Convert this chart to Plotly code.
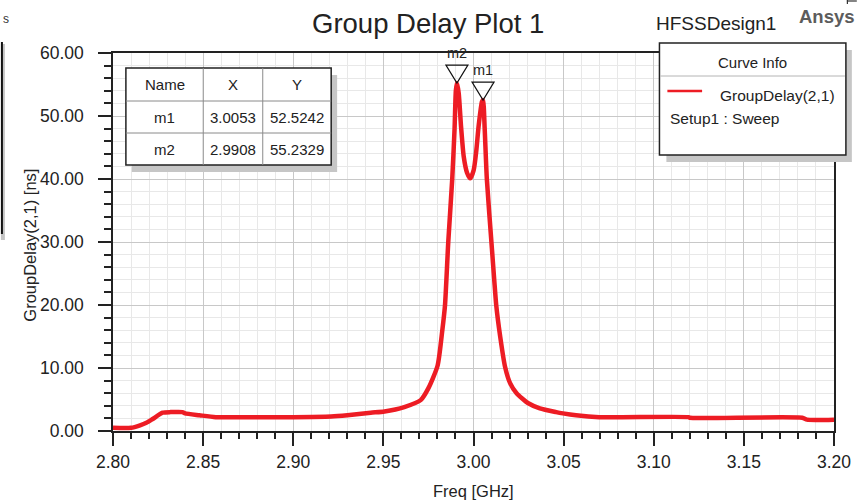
import plotly.graph_objects as go

# Group delay of S21 versus frequency (HFSS sweep "Setup1 : Sweep")
freq_ghz = [
    2.800, 2.810, 2.815, 2.8185, 2.822, 2.8275, 2.832, 2.8385, 2.840, 2.848,
    2.857, 2.880, 2.900, 2.921, 2.930, 2.943, 2.9506, 2.9616, 2.9707, 2.975,
    2.9801, 2.9827, 2.9842, 2.986, 2.9882, 2.9895, 2.9902, 2.9908, 2.9918, 2.9931,
    2.9946, 2.9964, 2.9982, 3.0001, 3.0016, 3.0028, 3.0047, 3.0053, 3.0062, 3.0074,
    3.0102, 3.0115, 3.0126, 3.0148, 3.0175, 3.0203, 3.0239, 3.0304, 3.0368, 3.0459,
    3.0496, 3.0569, 3.0698, 3.1193, 3.1200, 3.1824, 3.1850, 3.2000,
]
group_delay_ns = [
    0.5, 0.5, 0.9, 1.3, 1.9, 2.9, 3.0, 3.0, 2.8, 2.5,
    2.2, 2.2, 2.2, 2.3, 2.5, 2.9, 3.1, 3.8, 4.9, 6.8,
    10.4, 16.0, 20.0, 30.0, 40.0, 48.0, 54.0, 55.2329, 53.6, 48.3,
    43.5, 41.0, 40.1, 41.4, 44.6, 48.3, 52.3, 52.5242, 48.0, 40.0,
    29.0, 24.0, 20.0, 15.0, 10.2, 7.6, 6.0, 4.4, 3.6, 3.0,
    2.8, 2.5, 2.2, 2.2, 2.1, 2.1, 1.8, 1.8,
]

# Marker table
marker_names = ["m1", "m2"]
marker_freq = [3.0053, 2.9908]
marker_delay = [52.5242, 55.2329]

x_ticks = [2.80, 2.85, 2.90, 2.95, 3.00, 3.05, 3.10, 3.15, 3.20]
y_ticks = [0, 10, 20, 30, 40, 50, 60]

W, H = 863, 504
L, R, T, B = 113, 23, 53, 73
PW, PH = W - L - R, H - T - B
FONT = "Liberation Sans, Arial, sans-serif"
RED = "#ED1C24"
INK = "#222222"


def px(x):
    """Pixel column -> paper x."""
    return (x - L) / PW


def py(y):
    """Pixel row (from top) -> paper y."""
    return (H - B - y) / PH


fig = go.Figure()
fig.add_trace(go.Scatter(
    x=freq_ghz, y=group_delay_ns, mode="lines",
    line=dict(color=RED, width=4.5, shape="spline", smoothing=0.6),
    hoverinfo="skip", showlegend=False,
))

shapes = []
annotations = []


def rect(x0, y0, x1, y1, fill, line_color=None, lw=0):
    shapes.append(dict(
        type="rect", xref="paper", yref="paper", layer="above",
        x0=px(x0), x1=px(x1), y0=py(y1), y1=py(y0),
        fillcolor=fill, line=dict(color=line_color or fill, width=lw),
    ))


def hline(x0, x1, y, color, lw=1):
    shapes.append(dict(type="line", xref="paper", yref="paper", layer="above",
                       x0=px(x0), x1=px(x1), y0=py(y), y1=py(y),
                       line=dict(color=color, width=lw)))


def vline(x, y0, y1, color, lw=1):
    shapes.append(dict(type="line", xref="paper", yref="paper", layer="above",
                       x0=px(x), x1=px(x), y0=py(y0), y1=py(y1),
                       line=dict(color=color, width=lw)))


def text(x, y, s, size, xanchor="center", color=INK, bold=False, angle=0):
    annotations.append(dict(
        xref="paper", yref="paper", x=px(x), y=py(y), text=f"<b>{s}</b>" if bold else s,
        showarrow=False, xanchor=xanchor, yanchor="middle", textangle=angle,
        font=dict(family=FONT, size=size, color=color),
    ))


# Marker table (upper left)
tx0, tx1, ty0, ty1 = 126, 333, 68, 165
col_edges = [tx0, 204, 264, tx1]
row_edges = [ty0, 101, 133, ty1]
rect(tx0 + 6, ty0 + 7, tx1 + 6, ty1 + 7, "#c6c6c6")
rect(tx0, ty0, tx1, ty1, "white", INK, 1.5)
for cx in col_edges[1:-1]:
    vline(cx, ty0, ty1, "#8a8a8a", 1)
for ry in row_edges[1:-1]:
    hline(tx0, tx1, ry, "#8a8a8a", 1)
table_rows = [["Name", "X", "Y"]] + [
    [n, f"{f:.4f}", f"{d:.4f}"] for n, f, d in zip(marker_names, marker_freq, marker_delay)
]
for r, row in enumerate(table_rows):
    cy = (row_edges[r] + row_edges[r + 1]) / 2
    for c, val in enumerate(row):
        cx = (col_edges[c] + col_edges[c + 1]) / 2
        text(cx, cy, val, 15)

# Curve info box (upper right)
lx0, lx1, ly0, ly1 = 664, 852, 43, 155
rect(lx0 + 7, ly0 + 7, lx1 + 6, ly1 + 7, "#c6c6c6")
rect(lx0, ly0, lx1, ly1, "white", INK, 1.5)
hline(lx0 + 1, lx1 - 1, 76, "#b4b4b4", 1)
text((lx0 + lx1) / 2, 62, "Curve Info", 15)
hline(672, 707, 91, RED, 2.5)
text(723, 96, "GroupDelay(2,1)", 15.5, xanchor="left")
text(673, 118, "Setup1 : Sweep", 15.5, xanchor="left")

# Marker triangles pointing at the marked values
for name, f, d in zip(marker_names, marker_freq, marker_delay):
    shapes.append(dict(
        type="path", xref="x", yref="y", layer="above",
        xsizemode="pixel", ysizemode="pixel", xanchor=f, yanchor=d,
        path="M-11,18 L11,18 L0,0 Z",
        line=dict(color="#111111", width=1.2), fillcolor="rgba(0,0,0,0)",
    ))
    annotations.append(dict(
        xref="x", yref="y", x=f, y=d, text=name, showarrow=False,
        xanchor="center", yanchor="middle", yshift=30,
        font=dict(family=FONT, size=14.5, color=INK),
    ))

# Titles and labels
text(431, 24, "Group Delay Plot 1", 27.5)
text(658, 23.5, "HFSSDesign1", 19, xanchor="left")
text(803, 17, "Ansys", 18.5, xanchor="left", color="#5c5c5c", bold=True)
text(477, 491, "Freq [GHz]", 16.5)
text(29, 245, "GroupDelay(2,1) [ns]", 16.5, angle=-90)

# Edge of a neighbouring window on the left and corner tick at top right
rect(0, 44, 4, 240, "#c4c4c4")
vline(1, 42, 234, "#111111", 2)
text(0, 19, "s", 12, xanchor="left", color="#333333")
hline(853, 863, 1, "#333333", 1.2)
vline(853.5, 0, 4, "#333333", 1.2)

axis_common = dict(
    showline=True, linecolor=INK, linewidth=1.5, mirror=True,
    ticks="outside", ticklen=13, tickwidth=1.5, tickcolor=INK,
    showgrid=True, gridcolor="#c8c8c8", gridwidth=1, zeroline=False,
    tickfont=dict(family=FONT, size=17.5, color=INK),
)

fig.update_layout(
    width=W, height=H,
    margin=dict(l=L, r=R, t=T, b=B, pad=0),
    paper_bgcolor="white", plot_bgcolor="white",
    xaxis=dict(
        range=[2.80, 3.20], tickvals=x_ticks, ticktext=[f"{v:.2f}" for v in x_ticks],
        minor=dict(dtick=0.01, ticks="outside", ticklen=6, tickwidth=1.5, tickcolor=INK,
                   showgrid=True, gridcolor="#e8e8e8", gridwidth=1),
        ticklabelstandoff=1,
        **axis_common,
    ),
    yaxis=dict(
        range=[0, 60], tickvals=y_ticks, ticktext=[f"{v:.2f}" for v in y_ticks],
        minor=dict(dtick=2, ticks="outside", ticklen=7, tickwidth=1.5, tickcolor=INK,
                   showgrid=True, gridcolor="#e8e8e8", gridwidth=1),
        ticklabelstandoff=11,
        **axis_common,
    ),
    shapes=shapes,
    annotations=annotations,
    showlegend=False,
)

fig.write_html("out.html")
